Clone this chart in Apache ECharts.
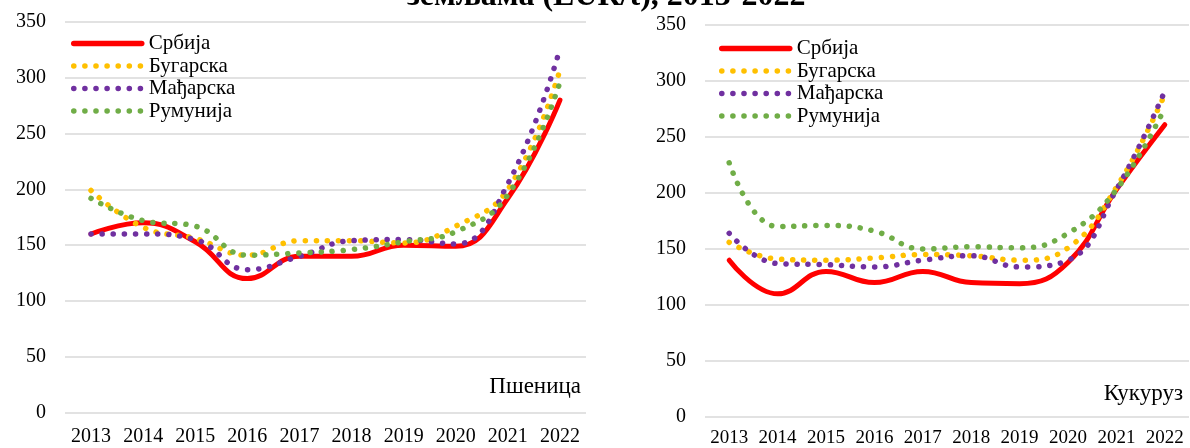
<!DOCTYPE html>
<html>
<head>
<meta charset="utf-8">
<script src="https://cdn.jsdelivr.net/npm/echarts@6/dist/echarts.min.js"></script>
<style>
  html, body { margin: 0; padding: 0; background: #fff; }
  #chart { width: 1190px; height: 448px; }
</style>
</head>
<body>
<div id="chart"></div>
<script>
// godine
const years = ['2013', '2014', '2015', '2016', '2017', '2018', '2019', '2020', '2021', '2022'];
const countries = ['Србија', 'Бугарска', 'Мађарска', 'Румунија'];
const yTicks = [0, 50, 100, 150, 200, 250, 300, 350];

// Пшеница (EUR/t)
const wheatSrb = [160, 170, 153, 120, 140, 140, 150, 149, 192, 280];
const wheatBug = [199, 166, 156, 141, 154, 154, 152, 167, 200, 307];
const wheatMad = [160, 160, 155, 128, 140, 154, 155, 151, 205, 326];
const wheatRum = [192, 172, 167, 141, 143, 146, 153, 162, 195, 296];

// Кукуруз (EUR/t)
const cornSrb = [140, 110, 130, 120, 130, 120, 119, 138, 203, 261];
const cornBug = [156, 141, 140, 142, 145, 144, 140, 151, 205, 288];
const cornMad = [164, 137, 136, 134, 140, 144, 134, 140, 203, 291];
const cornRum = [227, 170, 171, 166, 150, 152, 151, 164, 203, 276];

const colors = ['#ff0000', '#ffc000', '#7030a0', '#70ad47'];
const font = '"Liberation Serif", "DejaVu Serif", serif';

function makeSeries(idx, arrs) {
  return arrs.map(function (d, i) {
    return {
      name: countries[i],
      type: 'line',
      xAxisIndex: idx,
      yAxisIndex: idx,
      data: d,
      smooth: 0.45,
      symbol: 'none',
      color: colors[i],
      lineStyle: i === 0
        ? { width: 5, color: colors[i], cap: 'round' }
        : { width: 5.5, color: colors[i], type: [0.1, 11], cap: 'round' },
      z: i === 0 ? 2 : 3
    };
  });
}

function xAx(idx, size, margin) {
  return {
    type: 'category',
    gridIndex: idx,
    data: years,
    boundaryGap: true,
    axisLine: { show: false },
    axisTick: { show: false },
    axisLabel: { interval: 0, color: '#000', fontFamily: font, fontSize: size, margin: margin }
  };
}

function yAx(idx) {
  return {
    type: 'value',
    gridIndex: idx,
    min: yTicks[0],
    max: yTicks[yTicks.length - 1],
    interval: 50,
    axisLine: { show: false },
    axisTick: { show: false },
    splitLine: { lineStyle: { color: '#d9d9d9', width: 1.5 } },
    axisLabel: { color: '#000', fontFamily: font, fontSize: 20, margin: 19 }
  };
}

function leg(left, top) {
  return {
    data: countries,
    orient: 'vertical',
    left: left,
    top: top,
    itemWidth: 68,
    itemHeight: 14,
    itemGap: 1.5,
    itemStyle: { opacity: 0 },
    lineStyle: { width: 5.5, cap: 'round' },
    textStyle: { color: '#000', fontFamily: font, fontSize: 21, padding: [0, 0, 0, 2] }
  };
}

const myChart = echarts.init(document.getElementById('chart'));
const option = {
  animation: false,
  backgroundColor: '#fff',
  title: [
    {
      text: 'земљама (EUR/t), 2013-2022',
      left: 402,
      top: -24,
      textStyle: { color: '#000', fontFamily: font, fontWeight: 'bold', fontSize: 32 }
    },
    {
      text: 'Пшеница',
      right: 604,
      top: 370,
      textStyle: { color: '#000', fontFamily: font, fontWeight: 'normal', fontSize: 23 }
    },
    {
      text: 'Кукуруз',
      right: 2,
      top: 377,
      textStyle: { color: '#000', fontFamily: font, fontWeight: 'normal', fontSize: 23 }
    }
  ],
  legend: [leg(66, 28), leg(714, 33)],
  grid: [
    { left: 65, right: 604, top: 22, bottom: 35.5 },
    { left: 705, right: 1, top: 25, bottom: 30 }
  ],
  xAxis: [xAx(0, 20, 14), xAx(1, 19, 12)],
  yAxis: [yAx(0), yAx(1)],
  series: makeSeries(0, [wheatSrb, wheatBug, wheatMad, wheatRum])
    .concat(makeSeries(1, [cornSrb, cornBug, cornMad, cornRum]))
};

myChart.setOption(option);
window.addEventListener('resize', function () {
  myChart.resize();
});
</script>
</body>
</html>
